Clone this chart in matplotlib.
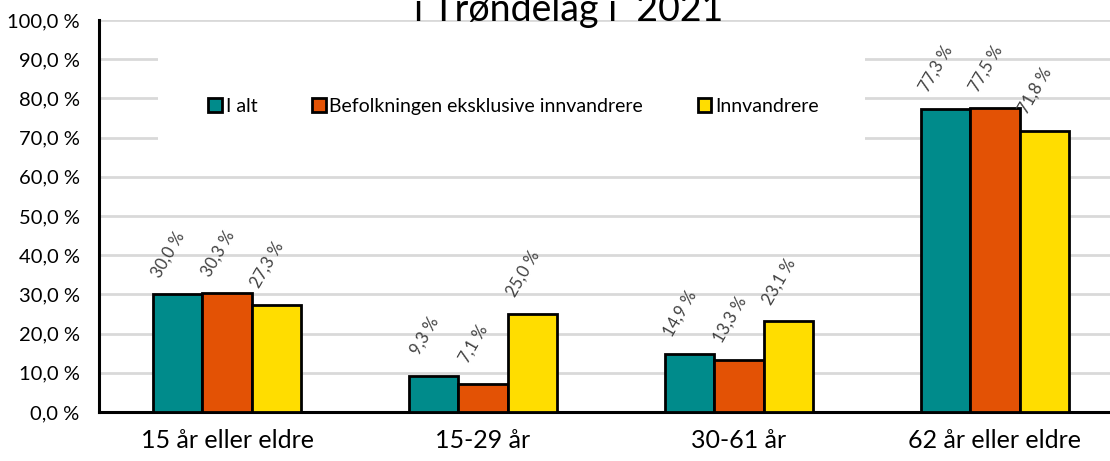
import matplotlib.pyplot as plt
import matplotlib.patches as mpatches
import numpy as np

plt.rcParams['font.family'] = ['Lato', 'DejaVu Sans']

categories = ['15 år eller eldre', '15-29 år', '30-61 år', '62 år eller eldre']
series_names = ['I alt', 'Befolkningen eksklusive innvandrere', 'Innvandrere']
i_alt = [30.0, 9.3, 14.9, 77.3]
eksl_innv = [30.3, 7.1, 13.3, 77.5]
innvandrere = [27.3, 25.0, 23.1, 71.8]
title = 'i Trøndelag i  2021'

colors = ['#008B8B', '#E35205', '#FFDD00']

fig = plt.figure(figsize=(11.1, 4.61), dpi=100)
ax = fig.add_axes([0.0892, 0.1063, 0.9225, 0.8503])

x = np.arange(len(categories))
width = 0.193
offsets = [-width, 0, width]

for vals, name, col, off in zip([i_alt, eksl_innv, innvandrere], series_names, colors, offsets):
    bars = ax.bar(x + off, vals, width, color=col, edgecolor='black', linewidth=2,
                  label=name, zorder=3)
    for bar, v in zip(bars, vals):
        lbl = f'{v:.1f} %'.replace('.', ',')
        ax.annotate(lbl, (bar.get_x() + bar.get_width() / 2, v),
                    xytext=(-9, 40), textcoords='offset pixels',
                    ha='center', va='center', rotation=60, rotation_mode='anchor',
                    fontsize=12, color='#404040', zorder=4)

ax.set_xlim(-0.5, 3.5)
ax.set_ylim(0, 100)
ax.set_yticks(np.arange(0, 101, 10))
ax.set_yticklabels([f'{t:.1f} %'.replace('.', ',') for t in np.arange(0, 101, 10)], fontsize=14.5)
ax.set_xticks(x)
ax.set_xticklabels(categories, fontsize=18)
ax.tick_params(axis='y', length=0, pad=14)
ax.tick_params(axis='x', length=0, pad=12)

ax.yaxis.grid(True, color='#D9D9D9', linewidth=2, zorder=0)
ax.set_axisbelow(True)
for s in ['top', 'right']:
    ax.spines[s].set_visible(False)
ax.spines['left'].set_linewidth(2.2)
ax.spines['bottom'].set_linewidth(2.2)
ax.spines['left'].set_zorder(5)

# white area behind the legend
ax.add_patch(mpatches.Rectangle((0.0576, 0.67), 0.69, 0.26, transform=ax.transAxes,
                                facecolor='white', edgecolor='none', zorder=1))

leg = fig.legend(loc='center left', bbox_to_anchor=(0.172, 0.77), ncol=3, frameon=False,
                 fontsize=14, handlelength=0.7, handleheight=0.7, handletextpad=0.2,
                 columnspacing=2.8)

fig.text(0.512, 1 - 21 / 461, title, ha='center', va='baseline', fontsize=27)

fig.savefig('out.png', dpi=100)
